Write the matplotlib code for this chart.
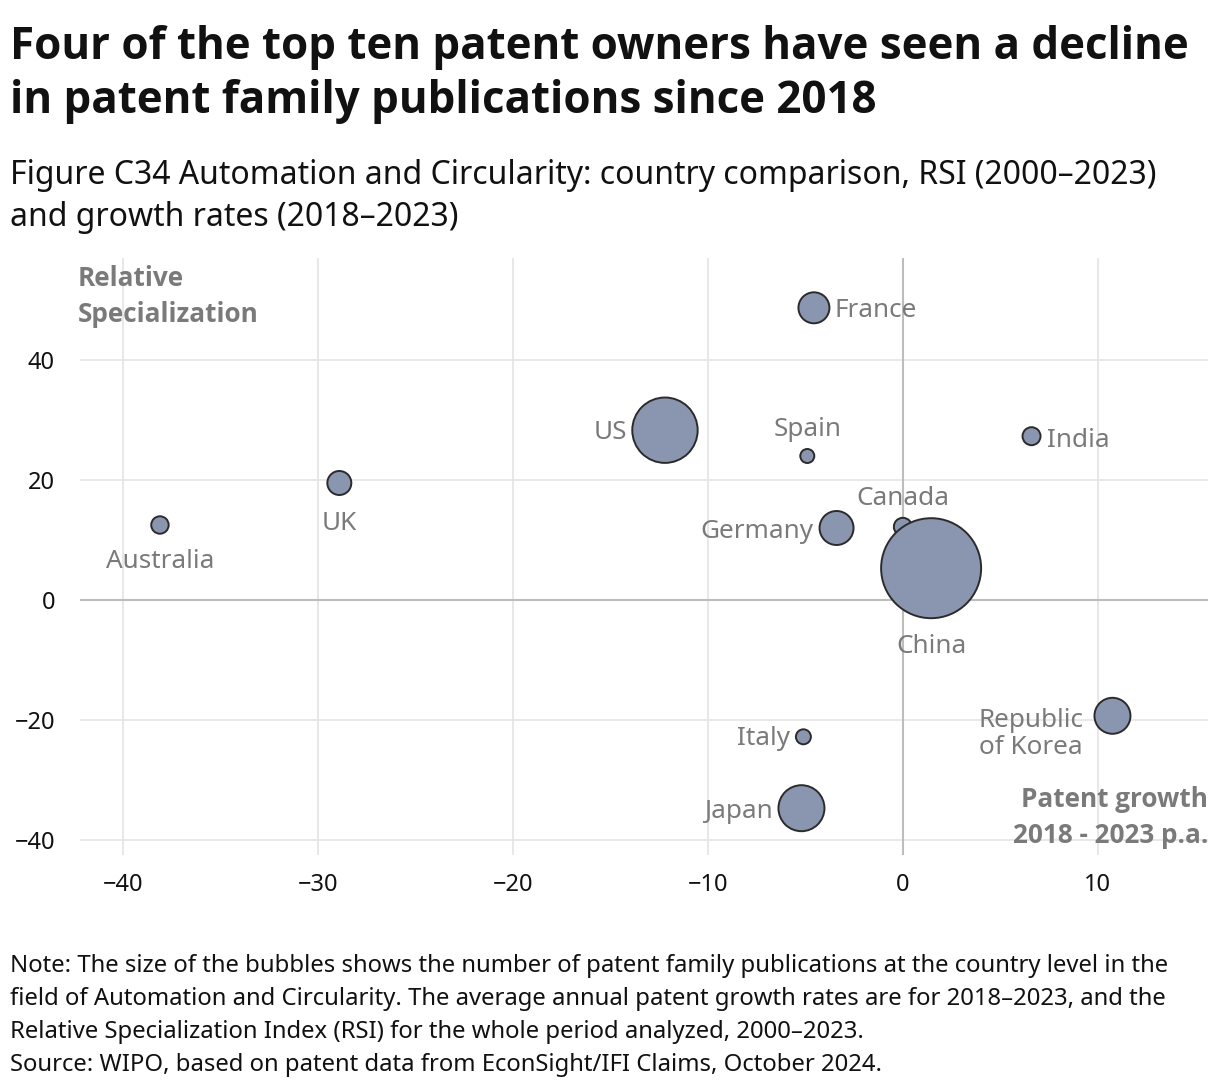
import matplotlib
matplotlib.use("Agg")
import matplotlib.pyplot as plt

plt.rcParams['font.family'] = ['Noto Sans', 'DejaVu Sans']
BOLD = ['Open Sans', 'DejaVu Sans']

countries = ["France", "US", "Spain", "India", "UK", "Australia", "Germany",
             "Canada", "China", "Republic\nof Korea", "Italy", "Japan"]
growth = [-4.56, -12.2, -4.9, 6.6, -28.9, -38.1, -3.4, 0.0, 1.45, 10.75, -5.1, -5.2]
rsi = [48.7, 28.3, 24.0, 27.3, 19.5, 12.5, 12.0, 12.2, 5.3, -19.3, -22.8, -34.7]
publications = [240, 1069, 49, 81, 144, 76, 289, 81, 2500, 324, 56, 529]

xticks = [-40, -30, -20, -10, 0, 10]
yticks = [-40, -20, 0, 20, 40]

# label placement (offset in pixels, ha, va)
label_pos = {
    "France": (21, -3, "left", "center"),
    "US": (-38, -2, "right", "center"),
    "Spain": (0, 27, "center", "center"),
    "India": (15, -4, "left", "center"),
    "UK": (0, -41, "center", "center"),
    "Australia": (0, -36, "center", "center"),
    "Germany": (-23, -3, "right", "center"),
    "Canada": (0, 28, "center", "center"),
    "China": (0, -78, "center", "center"),
    "Republic\nof Korea": (-29, -18, "right", "center"),
    "Italy": (-13, -2, "right", "center"),
    "Japan": (-29, -3, "right", "center"),
}

W, H = 1220, 1092
fig = plt.figure(figsize=(W / 100, H / 100), dpi=100)
ax = fig.add_axes([80 / W, 1 - 855 / H, (1208 - 80) / W, (855 - 258) / H])

px2pt = 72 / 100
sizes = [4 * a * px2pt ** 2 for a in publications]

ax.set_xlim(-42.2, 15.65)
ax.set_ylim(-42.5, 57)
ax.set_xticks(xticks)
ax.set_yticks(yticks)
ax.grid(True, color="#e6e6e6", linewidth=1.3)
ax.set_axisbelow(True)
ax.axhline(0, color="#bdbdbd", linewidth=1.5, zorder=1)
ax.axvline(0, color="#bdbdbd", linewidth=1.5, zorder=1)
for s in ax.spines.values():
    s.set_visible(False)
ax.tick_params(axis="y", length=0, labelsize=17, colors="#111111", pad=18)
ax.tick_params(axis="x", length=0, labelsize=17, colors="#111111", pad=13)

ax.scatter(growth, rsi, s=sizes, color="#8a96b0", edgecolors="#2b2b2b",
           linewidths=1.4, zorder=3)

for c, x, y in zip(countries, growth, rsi):
    dx, dy, ha, va = label_pos[c]
    ax.annotate(c, (x, y), xytext=(dx * px2pt, dy * px2pt), textcoords="offset points",
                ha=ha, va=va, fontsize=18.8, color="#7a7a7a", zorder=4,
                multialignment="center", linespacing=1.12)

fig.text(78 / W, 1 - 265 / H, "Relative\nSpecialization", ha="left", va="top",
         fontsize=18.8, fontweight="bold", color="#7a7a7a", linespacing=1.42, family=BOLD)
fig.text(1208 / W, 1 - 849 / H, "Patent growth\n2018 - 2023 p.a.", ha="right", va="bottom",
         fontsize=18.8, fontweight="bold", color="#7a7a7a", linespacing=1.42,
         multialignment="right", family=BOLD)

fig.text(10 / W, 1 - 25 / H,
         "Four of the top ten patent owners have seen a decline\nin patent family publications since 2018",
         ha="left", va="top", fontsize=31.6, fontweight="bold", color="#111111", linespacing=1.27,
         family=BOLD)
fig.text(10 / W, 1 - 159 / H,
         "Figure C34 Automation and Circularity: country comparison, RSI (2000\u20132023)\nand growth rates (2018\u20132023)",
         ha="left", va="top", fontsize=23, color="#111111", linespacing=1.36)
fig.text(10 / W, 1 - 954 / H,
         "Note: The size of the bubbles shows the number of patent family publications at the country level in the\n"
         "field of Automation and Circularity. The average annual patent growth rates are for 2018\u20132023, and the\n"
         "Relative Specialization Index (RSI) for the whole period analyzed, 2000\u20132023.\n"
         "Source: WIPO, based on patent data from EconSight/IFI Claims, October 2024.",
         ha="left", va="top", fontsize=17.2, color="#111111", linespacing=1.5)

fig.savefig("out.png", dpi=100)
